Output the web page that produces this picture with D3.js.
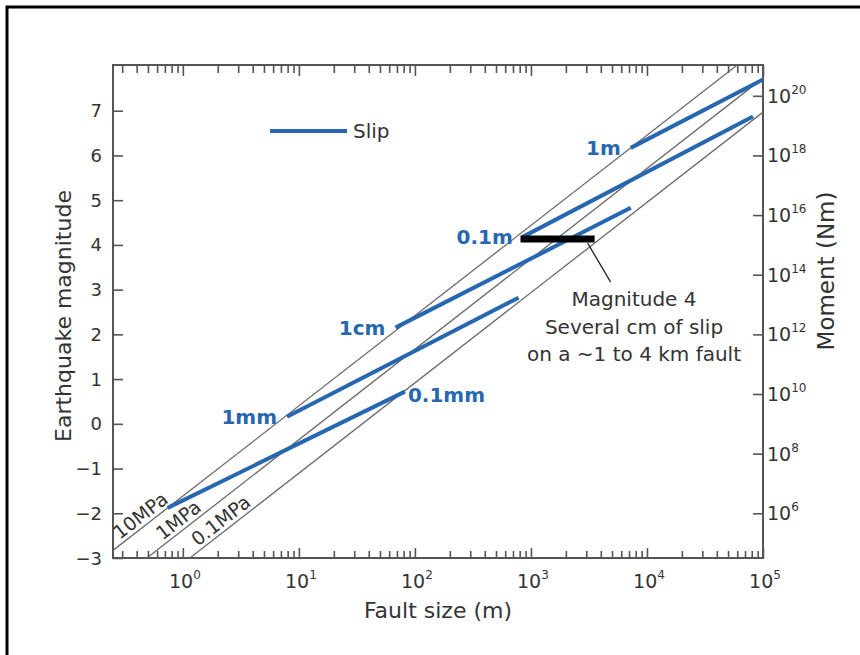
<!DOCTYPE html>
<html><head><meta charset="utf-8">
<script src="https://cdn.jsdelivr.net/npm/d3@7"></script>
<style>body{margin:0;background:#fff}svg{display:block}text{font-family:"DejaVu Sans","Liberation Sans",Arial,sans-serif}</style>
</head><body><svg id="c" width="860" height="655"></svg>
<script>
// ---- data ----
const slipLabels   = ["0.1mm", "1mm", "1cm", "0.1m", "1m"];
const slipStartL   = [0.74, 7.9, 68, 850, 7250];
const slipStartMw  = [-1.88, 0.16, 2.15, 4.18, 6.17];
const slipEndL     = [82, 782, 7250, 82000, 100000];
const slipEndMw    = [0.72, 2.82, 4.83, 6.87, 7.7];
const slipLabelAtEnd = [true, false, false, false, false];

const stressLabels  = ["10MPa", "1MPa", "0.1MPa"];
const stressStartL  = [0.25, 0.49, 1.15];
const stressStartMw = [-2.83, -3, -3];
const stressEndL    = [58500, 100000, 100000];
const stressEndMw   = [8, 7.73, 6.97];
const stressLabelL  = [0.3, 0.7, 1.41];

const m4Mw = 4.13, m4L = [813, 3540];
const m4Text = ["Magnitude 4", "Several cm of slip", "on a ~1 to 4 km fault"];

const xDecades = [0, 1, 2, 3, 4, 5];
const magTicks = [-3, -2, -1, 0, 1, 2, 3, 4, 5, 6, 7];
const momentExp = [6, 8, 10, 12, 14, 16, 18, 20];

// ---- drawing ----
const svg = d3.select("#c");
const L = 113, R = 763, T = 66, B = 558;
const x = d3.scaleLog().domain([0.25, 1e5]).range([L, R]);
const y = d3.scaleLinear().domain([-3, 8]).range([B, T]);
// Mw = (2/3) log10(M0) - 6.0
const yM = d3.scaleLinear().domain([(-3 + 6) * 1.5, (8 + 6) * 1.5]).range([B, T]);

const axisCol = "#555", txtCol = "#333", blue = "#2767b1";

// outer frame
svg.append("rect").attr("x", 7).attr("y", 7).attr("width", 900).attr("height", 700)
  .attr("fill", "none").attr("stroke", "#000").attr("stroke-width", 3);

svg.append("clipPath").attr("id", "clip").append("rect")
  .attr("x", L).attr("y", T - 1).attr("width", R - L).attr("height", B - T + 1);

const minor = [];
for (let d = -1; d <= 4; d++) for (let k = 2; k <= 9; k++) {
  const v = k * Math.pow(10, d);
  if (v >= 0.25 && v <= 1e5) minor.push(v);
}
const major = xDecades.map(e => Math.pow(10, e));

function axisG(ax, tx, ty) {
  const g = svg.append("g").attr("transform", `translate(${tx},${ty})`).call(ax);
  g.select(".domain").remove();
  g.selectAll("line").attr("stroke", axisCol).attr("stroke-width", 1.6);
  return g;
}
axisG(d3.axisBottom(x).tickValues(minor).tickSize(-7).tickFormat(""), 0, B);
axisG(d3.axisBottom(x).tickValues(major).tickSize(-10).tickFormat(""), 0, B);
axisG(d3.axisTop(x).tickValues(minor).tickSize(-7).tickFormat(""), 0, T);
axisG(d3.axisTop(x).tickValues(major).tickSize(-10).tickFormat(""), 0, T);
axisG(d3.axisLeft(y).tickValues(magTicks).tickSize(-10).tickFormat(""), L, 0);
axisG(d3.axisRight(yM).tickValues(momentExp).tickSize(-10).tickFormat(""), R, 0);

// tick labels
svg.append("g").selectAll("text").data(magTicks).join("text")
  .attr("x", 102).attr("y", d => y(d) + 6.5).attr("text-anchor", "end")
  .attr("font-size", 18).attr("fill", txtCol)
  .text(d => d < 0 ? "\u2212" + Math.abs(d) : d);

const bl = svg.append("g").selectAll("text").data(xDecades).join("text")
  .attr("x", d => x(Math.pow(10, d)) + 2).attr("y", 588).attr("text-anchor", "middle")
  .attr("font-size", 19).attr("fill", txtCol);
bl.append("tspan").text("10");
bl.append("tspan").attr("dy", -9).attr("font-size", 12).text(d => d);

const rl = svg.append("g").selectAll("text").data(momentExp).join("text")
  .attr("x", 767).attr("y", d => yM(d) + 7)
  .attr("font-size", 19).attr("fill", txtCol);
rl.append("tspan").text("10");
rl.append("tspan").attr("dy", -9).attr("font-size", 12).text(d => d);

// plot frame
svg.append("rect").attr("x", L).attr("y", T - 1).attr("width", R - L).attr("height", B - T + 1)
  .attr("fill", "none").attr("stroke", axisCol).attr("stroke-width", 2);

// axis titles
svg.append("text").attr("x", 438).attr("y", 618).attr("text-anchor", "middle")
  .attr("font-size", 22).attr("fill", txtCol).text("Fault size (m)");
svg.append("text").attr("transform", `translate(71,${316}) rotate(-90)`).attr("text-anchor", "middle")
  .attr("font-size", 22).attr("fill", txtCol).text("Earthquake magnitude");
svg.append("text").attr("transform", `translate(834,${271}) rotate(-90)`).attr("text-anchor", "middle")
  .attr("font-size", 23).attr("fill", txtCol).text("Moment (Nm)");

const plot = svg.append("g").attr("clip-path", "url(#clip)");

// stress lines
stressLabels.forEach((s, i) => {
  plot.append("line")
    .attr("x1", x(stressStartL[i])).attr("y1", y(stressStartMw[i]))
    .attr("x2", x(stressEndL[i])).attr("y2", y(stressEndMw[i]))
    .attr("stroke", "#6a6a6a").attr("stroke-width", 1.3);
});

// stress labels
stressLabels.forEach((s, i) => {
  const x1 = x(stressStartL[i]), y1 = y(stressStartMw[i]);
  const x2 = x(stressEndL[i]), y2 = y(stressEndMw[i]);
  const ang = Math.atan2(y2 - y1, x2 - x1) * 180 / Math.PI;
  const t = (x(stressLabelL[i]) - x1) / (x2 - x1);
  const px = x1 + t * (x2 - x1), py = y1 + t * (y2 - y1);
  svg.append("text").attr("transform", `translate(${px},${py}) rotate(${ang})`)
    .attr("dy", -4).attr("font-size", 19).attr("fill", txtCol).text(s);
});

// slip lines
slipLabels.forEach((s, i) => {
  plot.append("line")
    .attr("x1", x(slipStartL[i])).attr("y1", y(slipStartMw[i]))
    .attr("x2", x(slipEndL[i])).attr("y2", y(slipEndMw[i]))
    .attr("stroke", blue).attr("stroke-width", 4);
});
slipLabels.forEach((s, i) => {
  const atEnd = slipLabelAtEnd[i];
  const px = atEnd ? x(slipEndL[i]) + 3 : x(slipStartL[i]) - 10;
  const py = atEnd ? y(slipEndMw[i]) + 10 : y(slipStartMw[i]) + 7;
  svg.append("text").attr("x", px).attr("y", py)
    .attr("text-anchor", atEnd ? "start" : "end")
    .attr("font-size", 20).attr("font-weight", "bold").attr("fill", blue).text(s);
});

// magnitude-4 bar
svg.append("line").attr("x1", x(m4L[0])).attr("x2", x(m4L[1]))
  .attr("y1", y(m4Mw)).attr("y2", y(m4Mw)).attr("stroke", "#000").attr("stroke-width", 7);
svg.append("line").attr("x1", x(m4L[1]) - 7).attr("y1", y(m4Mw) + 4)
  .attr("x2", x(m4L[1]) + 16).attr("y2", y(m4Mw) + 43).attr("stroke", "#222").attr("stroke-width", 1.3);
svg.append("g").selectAll("text").data(m4Text).join("text")
  .attr("x", 634).attr("y", (d, i) => 306 + i * 27.5).attr("text-anchor", "middle")
  .attr("font-size", 20).attr("fill", txtCol).text(d => d);

// legend
svg.append("line").attr("x1", 270).attr("x2", 347).attr("y1", 131).attr("y2", 131)
  .attr("stroke", blue).attr("stroke-width", 4);
svg.append("text").attr("x", 353).attr("y", 138).attr("font-size", 20).attr("fill", txtCol).text("Slip");
</script></body></html>
